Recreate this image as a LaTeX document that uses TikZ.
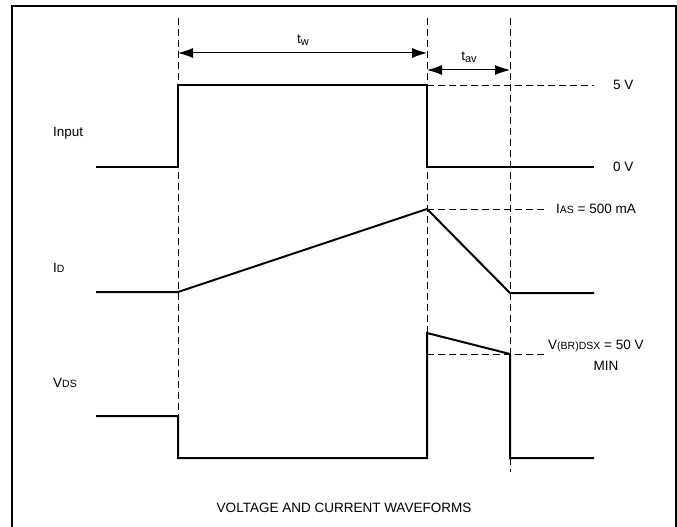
\documentclass[tikz,border=0pt]{standalone}
\usepackage{fontspec}
\setmainfont{Liberation Sans}
\usetikzlibrary{arrows.meta}
\begin{document}
\begin{tikzpicture}[x=1pt,y=-1pt,
  wave/.style={line width=2pt,line join=miter},
  guide/.style={line width=0.9pt,dash pattern=on 7pt off 4pt},
  dim/.style={line width=1pt,{Latex[length=15pt,width=10pt]}-{Latex[length=15pt,width=10pt]}},
  lbl/.style={font=\fontsize{13.5}{15}\selectfont,inner sep=0pt}]
\newcommand{\smx}[1]{{\fontsize{10.5}{12}\selectfont #1}}
\newcommand{\subx}[1]{\raisebox{-0.35ex}{\fontsize{11}{12}\selectfont #1}}
\useasboundingbox (0,0) rectangle (677,527);
\fill[white] (0,0) rectangle (677,527);
% frame
\draw[line width=1.5pt] (12,540) -- (12,6) -- (676,6) -- (676,540);
% guide coordinates
\coordinate (g1t) at (178,18);
\coordinate (g1b) at (178,416);
\coordinate (g2t) at (427,18);
\coordinate (g2b) at (427,333);
\coordinate (g3t) at (510,18);
\coordinate (g3b) at (510,472);
\draw[guide] (g1t) -- (g1b);
\draw[guide] (g2t) -- (g2b);
\draw[guide] (g3t) -- (g3b);
% dimension arrows
\coordinate (tw1) at (178,53);
\coordinate (tw2) at (427,53);
\coordinate (ta1) at (427,70);
\coordinate (ta2) at (510,70);
\draw[dim] (tw1) -- (tw2);
\draw[dim] (ta1) -- (ta2);
\node[lbl] (tw) at (303,40) {t\subx{w}};
\node[lbl] (tav) at (469,57) {t\subx{av}};
% input waveform
\coordinate (i0) at (96,167);
\coordinate (i1) at (178,167);
\coordinate (i2) at (178,85);
\coordinate (i3) at (427,85);
\coordinate (i4) at (427,167);
\coordinate (i5) at (594,167);
\coordinate (i6) at (594,85);
\draw[wave] (i0) -- (i1) -- (i2) -- (i3) -- (i4) -- (i5);
\draw[guide] (i3) -- (i6);
\node[lbl,anchor=west] (v5) at (613,85) {5 V};
\node[lbl,anchor=west] (v0) at (613,167) {0 V};
\node[lbl,anchor=west] (inp) at (53,133) {Input};
% ID waveform
\coordinate (d0) at (96,292);
\coordinate (d1) at (178,292);
\coordinate (d2) at (427,209);
\coordinate (d3) at (510,293);
\coordinate (d4) at (594,293);
\coordinate (d5) at (547,209);
\draw[wave] (d0) -- (d1) -- (d2) -- (d3) -- (d4);
\draw[guide] (d2) -- (d5);
\node[lbl,anchor=west] (ias) at (556,209) {I\smx{AS} = 500 mA};
\node[lbl,anchor=west] (idl) at (53,268) {I\smx{D}};
% VDS waveform
\coordinate (s0) at (96,416);
\coordinate (s1) at (178,416);
\coordinate (s2) at (178,458);
\coordinate (s3) at (427,458);
\coordinate (s4) at (427,333);
\coordinate (s5) at (510,354);
\coordinate (s6) at (510,458);
\coordinate (s7) at (594,458);
\coordinate (s4h) at (427,354);
\coordinate (s8) at (547,354);
\draw[wave] (s0) -- (s1) -- (s2) -- (s3) -- (s4) -- (s5) -- (s6) -- (s7);
\draw[guide] (s4h) -- (s8);
\node[lbl,anchor=west] (vbr) at (548,346) {V\smx{(BR)DSX} = 50 V};
\node[lbl] (min) at (606,366) {MIN};
\node[lbl,anchor=west] (vds) at (53,383) {V\smx{DS}};
% title
\node[lbl] (title) at (344,508) {VOLTAGE AND CURRENT WAVEFORMS};
\end{tikzpicture}
\end{document}
